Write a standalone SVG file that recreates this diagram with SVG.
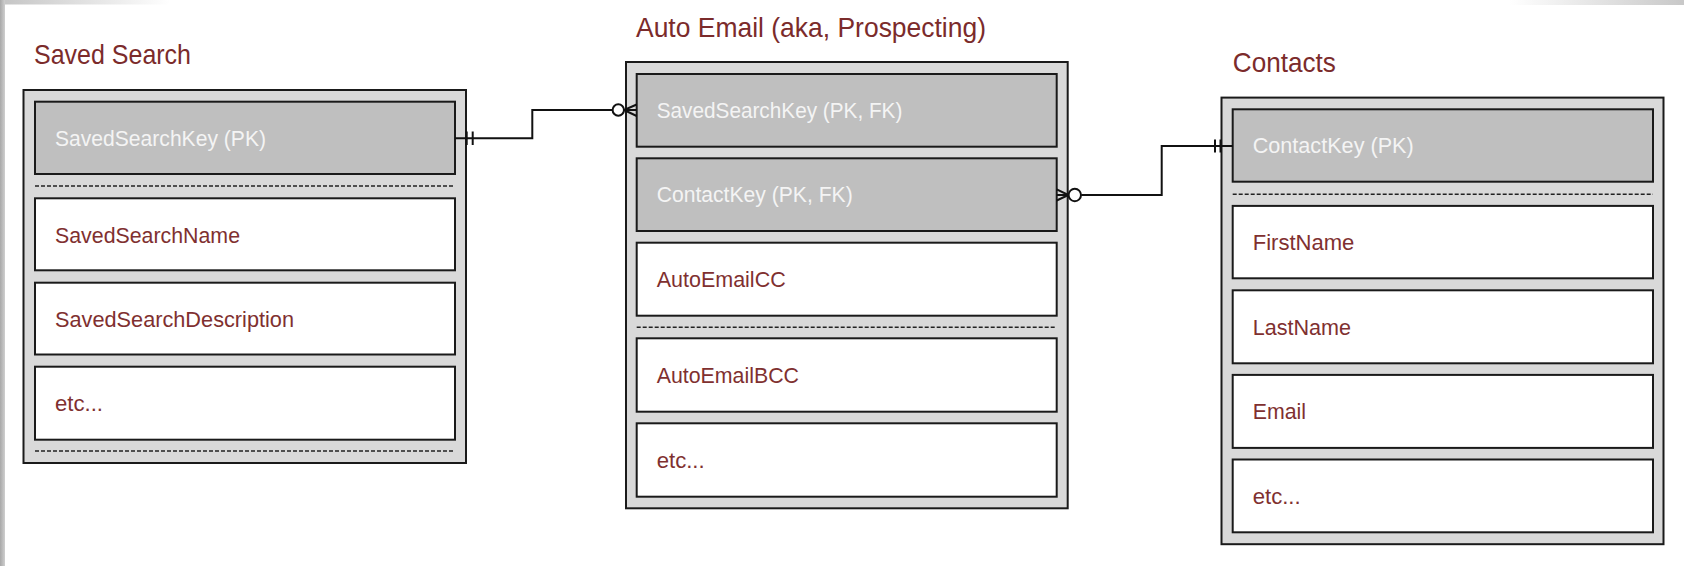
<svg xmlns="http://www.w3.org/2000/svg" width="1684" height="566" viewBox="0 0 1684 566">
  <defs>
    <linearGradient id="gTopL" x1="0" y1="0" x2="1" y2="0">
      <stop offset="0" stop-color="#c4c4c4"/>
      <stop offset="1" stop-color="#ffffff"/>
    </linearGradient>
    <linearGradient id="gTopR" x1="0" y1="0" x2="1" y2="0">
      <stop offset="0" stop-color="#ffffff"/>
      <stop offset="1" stop-color="#c8c8c8"/>
    </linearGradient>
    <linearGradient id="gLeft" x1="0" y1="0" x2="1" y2="0">
      <stop offset="0" stop-color="#a8a8a8"/>
      <stop offset="1" stop-color="#cfcfcf"/>
    </linearGradient>
  </defs>
  <style>
    .outer { fill: #d9d9d9; stroke: #1a1a1a; stroke-width: 2; }
    .pk { fill: #bfbfbf; stroke: #1a1a1a; stroke-width: 2; }
    .row { fill: #ffffff; stroke: #1a1a1a; stroke-width: 2; }
    .dash { stroke: #222222; stroke-width: 1.6; stroke-dasharray: 4 2; fill: none; }
    .title { font-family: "Liberation Sans", Arial, sans-serif; font-size: 27.5px; fill: #7b2b2b; }
    .t { font-family: "Liberation Sans", Arial, sans-serif; font-size: 22.5px; fill: #7f3030; }
    .tk { font-family: "Liberation Sans", Arial, sans-serif; font-size: 22.5px; fill: #f4f4f4; }
    .conn { fill: none; stroke: #111111; stroke-width: 2; }
    .circ { fill: #ffffff; stroke: #111111; stroke-width: 2; }
  </style>

  <rect x="0" y="0" width="1684" height="566" fill="#ffffff"/>
  <rect x="0" y="0" width="170" height="4.5" fill="url(#gTopL)"/>
  <rect x="1510" y="0" width="174" height="5" fill="url(#gTopR)"/>
  <rect x="0" y="0" width="5" height="566" fill="url(#gLeft)"/>

  <g id="saved-search">
    <text class="title" x="34" y="64" textLength="157" lengthAdjust="spacingAndGlyphs">Saved Search</text>
    <rect class="outer" x="23.5" y="90" width="442.5" height="373"/>
    <rect class="pk" x="35" y="101.7" width="420" height="72.3"/>
    <text class="tk" x="55" y="145.8" textLength="211" lengthAdjust="spacingAndGlyphs">SavedSearchKey (PK)</text>
    <line class="dash" x1="35" y1="186" x2="455" y2="186"/>
    <rect class="row" x="35" y="198.3" width="420" height="72"/>
    <text class="t" x="55" y="242.5" textLength="185" lengthAdjust="spacingAndGlyphs">SavedSearchName</text>
    <rect class="row" x="35" y="282.7" width="420" height="71.8"/>
    <text class="t" x="55" y="326.6" textLength="239" lengthAdjust="spacingAndGlyphs">SavedSearchDescription</text>
    <rect class="row" x="35" y="366.7" width="420" height="73"/>
    <text class="t" x="55" y="411" textLength="48" lengthAdjust="spacingAndGlyphs">etc...</text>
    <line class="dash" x1="35" y1="451" x2="455" y2="451"/>
  </g>

  <g id="auto-email">
    <text class="title" x="636" y="36.7" textLength="350" lengthAdjust="spacingAndGlyphs">Auto Email (aka, Prospecting)</text>
    <rect class="outer" x="626" y="62" width="441.7" height="446.3"/>
    <rect class="pk" x="636.7" y="74" width="420" height="72.7"/>
    <text class="tk" x="656.7" y="118.2" textLength="245.7" lengthAdjust="spacingAndGlyphs">SavedSearchKey (PK, FK)</text>
    <rect class="pk" x="636.7" y="158.3" width="420" height="72.7"/>
    <text class="tk" x="656.7" y="202.4" textLength="196" lengthAdjust="spacingAndGlyphs">ContactKey (PK, FK)</text>
    <rect class="row" x="636.7" y="242.7" width="420" height="73"/>
    <text class="t" x="656.7" y="286.9" textLength="129" lengthAdjust="spacingAndGlyphs">AutoEmailCC</text>
    <line class="dash" x1="636.7" y1="327.3" x2="1056.7" y2="327.3"/>
    <rect class="row" x="636.7" y="338.3" width="420" height="73.4"/>
    <text class="t" x="656.7" y="382.7" textLength="142.3" lengthAdjust="spacingAndGlyphs">AutoEmailBCC</text>
    <rect class="row" x="636.7" y="423.3" width="420" height="73.4"/>
    <text class="t" x="656.7" y="467.7" textLength="48" lengthAdjust="spacingAndGlyphs">etc...</text>
  </g>

  <g id="contacts">
    <text class="title" x="1232.8" y="72" textLength="103" lengthAdjust="spacingAndGlyphs">Contacts</text>
    <rect class="outer" x="1221.5" y="97.6" width="442" height="446.6"/>
    <rect class="pk" x="1232.7" y="109.3" width="420.3" height="72.4"/>
    <text class="tk" x="1252.7" y="153.3" textLength="161" lengthAdjust="spacingAndGlyphs">ContactKey (PK)</text>
    <line class="dash" x1="1232.7" y1="194.3" x2="1653" y2="194.3"/>
    <rect class="row" x="1232.7" y="205.9" width="420.3" height="72.4"/>
    <text class="t" x="1252.7" y="249.9" textLength="101.7" lengthAdjust="spacingAndGlyphs">FirstName</text>
    <rect class="row" x="1232.7" y="290.3" width="420.3" height="73"/>
    <text class="t" x="1252.7" y="334.6" textLength="98.3" lengthAdjust="spacingAndGlyphs">LastName</text>
    <rect class="row" x="1232.7" y="374.9" width="420.3" height="73"/>
    <text class="t" x="1252.7" y="419.2" textLength="53.3" lengthAdjust="spacingAndGlyphs">Email</text>
    <rect class="row" x="1232.7" y="459.5" width="420.3" height="72.8"/>
    <text class="t" x="1252.7" y="503.7" textLength="48" lengthAdjust="spacingAndGlyphs">etc...</text>
  </g>

  <g id="connectors">
    <g id="ss-to-ae">
      <path class="conn" d="M455 138.3 H532.3 V110 H636.7"/>
      <line class="conn" x1="466.7" y1="131.5" x2="466.7" y2="145"/>
      <line class="conn" x1="472.7" y1="131.5" x2="472.7" y2="145"/>
      <path class="conn" d="M636.7 104.5 L624 110 L636.7 116"/>
      <circle class="circ" cx="618.3" cy="110" r="5.7"/>
    </g>
    <g id="ae-to-contacts">
      <path class="conn" d="M1056.7 195 H1069 M1081.3 195 H1161.7 V146 H1232.7"/>
      <path class="conn" d="M1056.7 189.3 L1068.5 195 L1056.7 200.5"/>
      <circle class="circ" cx="1074.8" cy="195" r="6.2"/>
      <line class="conn" x1="1215" y1="139.5" x2="1215" y2="152.5"/>
      <line class="conn" x1="1220.5" y1="139.5" x2="1220.5" y2="152.5"/>
    </g>
  </g>
</svg>
